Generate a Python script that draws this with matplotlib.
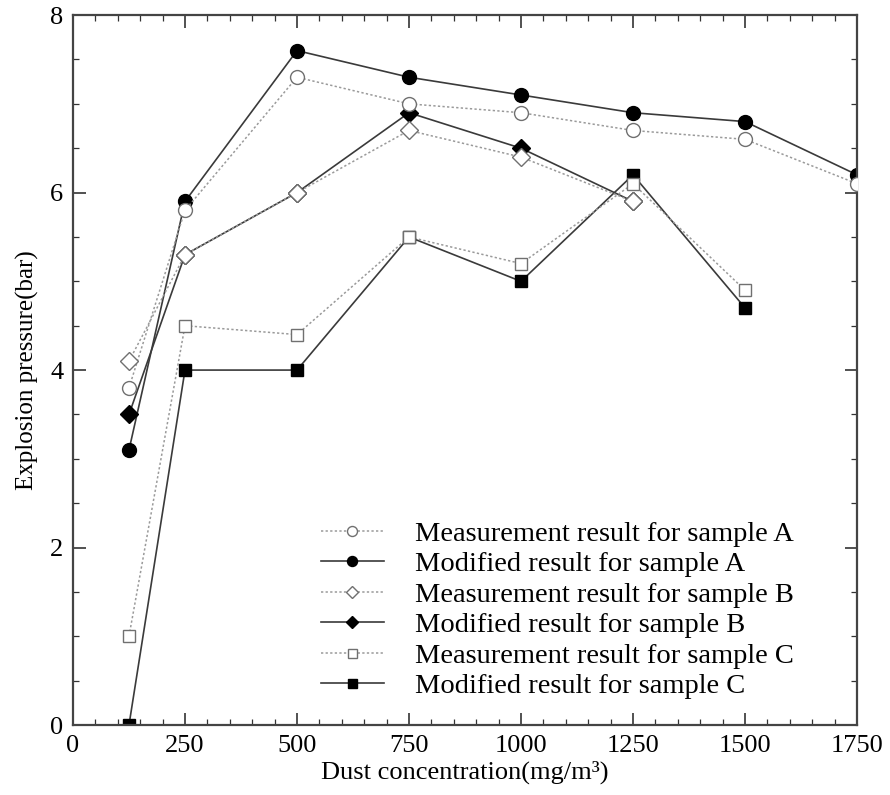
import matplotlib
matplotlib.use("Agg")
import matplotlib.pyplot as plt
from matplotlib.ticker import MultipleLocator

plt.rcParams["font.family"] = ["Liberation Serif", "DejaVu Serif"]

# Explosion pressure (bar) vs dust concentration (mg/m3)
conc_a = [125, 250, 500, 750, 1000, 1250, 1500, 1750]
meas_a = [3.8, 5.8, 7.3, 7.0, 6.9, 6.7, 6.6, 6.1]
mod_a = [3.1, 5.9, 7.6, 7.3, 7.1, 6.9, 6.8, 6.2]

conc_b = [125, 250, 500, 750, 1000, 1250]
meas_b = [4.1, 5.3, 6.0, 6.7, 6.4, 5.9]
mod_b = [3.5, 5.3, 6.0, 6.9, 6.5, 5.9]

conc_c = [125, 250, 500, 750, 1000, 1250, 1500]
meas_c = [1.0, 4.5, 4.4, 5.5, 5.2, 6.1, 4.9]
mod_c = [0.0, 4.0, 4.0, 5.5, 5.0, 6.2, 4.7]

fig = plt.figure(figsize=(8.9, 7.95), dpi=100)
ax = fig.add_axes([0.082, 0.088, 0.881, 0.893])

meas_style = dict(color="#9a9a9a", lw=1.1, ls=(0, (1.5, 1.5)),
                  mfc="white", mec="#707070", mew=1.0, zorder=3)
mod_style = dict(color="#3a3a3a", lw=1.2, ls="-",
                 mfc="black", mec="black", zorder=2)

ax.plot(conc_a, meas_a, marker="o", ms=10, label="Measurement result for sample A", **meas_style)
ax.plot(conc_a, mod_a, marker="o", ms=10, label="Modified result for sample A", **mod_style)
ax.plot(conc_b, meas_b, marker="D", ms=9, label="Measurement result for sample B", **meas_style)
ax.plot(conc_b, mod_b, marker="D", ms=9, label="Modified result for sample B", **mod_style)
ax.plot(conc_c, meas_c, marker="s", ms=9, label="Measurement result for sample C", **meas_style)
ax.plot(conc_c, mod_c, marker="s", ms=9, label="Modified result for sample C", **mod_style)

ax.set_xlim(0, 1750)
ax.set_ylim(0, 8)
ax.xaxis.set_major_locator(MultipleLocator(250))
ax.xaxis.set_minor_locator(MultipleLocator(50))
ax.yaxis.set_major_locator(MultipleLocator(2))
ax.yaxis.set_minor_locator(MultipleLocator(0.5))
ax.tick_params(which="both", direction="in", top=True, right=True,
               labelsize=19, color="#333333")
ax.tick_params(which="major", length=9, width=1.2, pad=7)
ax.tick_params(which="minor", length=4.5, width=0.9)
for sp in ax.spines.values():
    sp.set_linewidth(1.6)
    sp.set_color("#444444")

ax.set_xlabel("Dust concentration(mg/m³)", fontsize=19, labelpad=3)
ax.set_ylabel("Explosion pressure(bar)", fontsize=18, labelpad=8)

ax.legend(loc="upper left", bbox_to_anchor=(0.3607, 0.3447),
          bbox_transform=fig.transFigure, borderaxespad=0, borderpad=0,
          frameon=False, fontsize=20.5, handlelength=2.2, handletextpad=1.1,
          labelspacing=0.16, markerscale=0.72)

fig.savefig("out.png", dpi=100)
